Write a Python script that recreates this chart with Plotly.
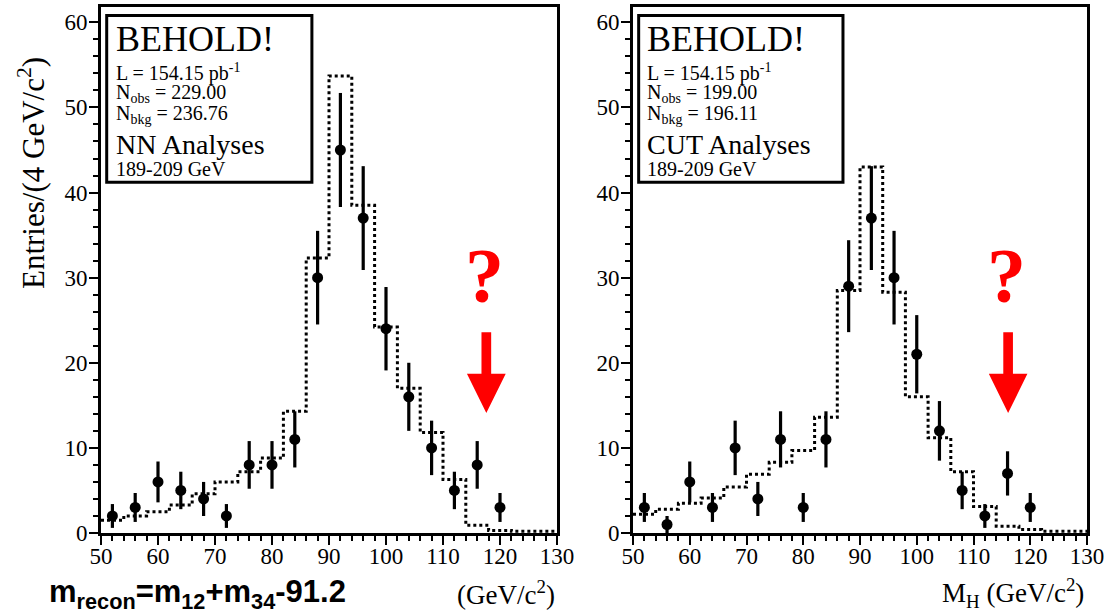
import plotly.graph_objects as go

# ---- data -------------------------------------------------------------
# 4 GeV/c^2 bins from 50 to 130
bin_edges = [50, 54, 58, 62, 66, 70, 74, 78, 82, 86, 90, 94, 98, 102, 106,
             110, 114, 118, 122, 126, 130]

# observed candidates (bin centres, counts, errors)
obs_mass = [52, 56, 60, 64, 68, 72, 76, 80, 84, 88, 92, 96, 100, 104, 108,
            112, 116, 120]
nn_obs = [2, 3, 6, 5, 4, 2, 8, 8, 11, 30, 45, 37, 24, 16, 10, 5, 8, 3]
nn_err = [1.4, 1.7, 2.4, 2.2, 2.0, 1.4, 2.8, 2.8, 3.3, 5.5, 6.7, 6.1, 4.9,
          4.0, 3.2, 2.2, 2.8, 1.7]
cut_obs = [3, 1, 6, 3, 10, 4, 11, 3, 11, 29, 37, 30, 21, 12, 5, 2, 7, 3]
cut_err = [1.7, 1.0, 2.4, 1.7, 3.2, 2.0, 3.3, 1.7, 3.3, 5.4, 6.1, 5.5, 4.6,
           3.5, 2.2, 1.4, 2.6, 1.7]

# expected background per bin
nn_bkg = [1.5, 2.0, 2.5, 3.3, 4.6, 6.0, 7.2, 8.8, 14.3, 32.3, 53.7, 38.5,
          24.2, 17.0, 11.8, 6.3, 0.9, 0.3, 0.2, 0.2]
cut_bkg = [2.2, 2.8, 3.5, 4.1, 5.4, 6.9, 8.3, 9.7, 13.6, 28.5, 43.0, 28.3,
           16.0, 11.2, 7.2, 3.1, 0.8, 0.4, 0.2, 0.2]

x_ticks = [50, 60, 70, 80, 90, 100, 110, 120, 130]
y_ticks = [0, 10, 20, 30, 40, 50, 60]

panels = [
    dict(obs=nn_obs, err=nn_err, bkg=nn_bkg, name="NN Analyses",
         n_obs="229.00", n_bkg="236.76", lumi="154.15"),
    dict(obs=cut_obs, err=cut_err, bkg=cut_bkg, name="CUT Analyses",
         n_obs="199.00", n_bkg="196.11", lumi="154.15"),
]

# ---- figure -----------------------------------------------------------
W, H = 1107, 615
SERIF = "Liberation Serif, Times New Roman, serif"
SANS = "Liberation Sans, Arial, sans-serif"

fig = go.Figure()

x_domains = [[101 / W, 557 / W], [633 / W, 1087 / W]]
y_domain = [1 - 533 / H, 1 - 7 / H]
arrow_x = [117.6, 116.1]
qmark_x = [117.3, 115.9]

for i, p in enumerate(panels):
    xa = "x" if i == 0 else "x2"
    ya = "y" if i == 0 else "y2"

    # background expectation as a dotted step histogram
    fig.add_trace(go.Scatter(
        x=bin_edges, y=p["bkg"] + [p["bkg"][-1]],
        mode="lines", line=dict(color="black", width=3, dash="dot", shape="hv"),
        xaxis=xa, yaxis=ya, showlegend=False, hoverinfo="skip"))

    # observed data with statistical errors
    fig.add_trace(go.Scatter(
        x=obs_mass, y=p["obs"], mode="markers",
        marker=dict(color="black", size=11),
        error_y=dict(type="data", array=p["err"], color="black",
                     thickness=3.2, width=0),
        xaxis=xa, yaxis=ya, showlegend=False))

    # info box
    fig.add_shape(type="rect", xref=xa, yref=ya, x0=51.0, x1=87.0,
                  y0=41.2, y1=60.8, line=dict(color="black", width=3),
                  fillcolor="white", layer="below")

    lines = [
        ("BEHOLD!", 36, 58.0),
        (f"L = {p['lumi']} pb<sup>-1</sup>", 20, 54.1),
        (f"N<sub>obs</sub> = {p['n_obs']}", 20, 51.6),
        (f"N<sub>bkg</sub> = {p['n_bkg']}", 20, 49.2),
        (p["name"], 28, 45.6),
        ("189-209 GeV", 20, 42.8),
    ]
    for txt, size, yv in lines:
        fig.add_annotation(x=52.2, y=yv, xref=xa, yref=ya, text=txt,
                           showarrow=False, xanchor="left", yanchor="middle",
                           font=dict(family=SERIF, size=size, color="black"))

    # question mark and arrow at the excess
    fig.add_annotation(x=qmark_x[i], y=30.2, xref=xa, yref=ya, text="<b>?</b>",
                       showarrow=False, xanchor="center", yanchor="middle",
                       font=dict(family=SERIF, size=78, color="#ff0000"))
    ax = arrow_x[i]
    fig.add_shape(type="path", xref=xa, yref=ya,
                  path=(f"M {ax-0.85},23.6 L {ax+0.85},23.6 L {ax+0.85},18.7 "
                        f"L {ax+3.4},18.7 L {ax},14.1 L {ax-3.4},18.7 "
                        f"L {ax-0.85},18.7 Z"),
                  fillcolor="#ff0000", line=dict(width=0))

axis_common = dict(showgrid=False, zeroline=False, showline=True,
                   linecolor="black", linewidth=3, mirror=True,
                   ticks="outside", tickcolor="black", tickwidth=2,
                   automargin=False,
                   tickfont=dict(family=SERIF, size=23, color="black"))

xa_cfg = dict(axis_common, range=[50, 130], tickvals=x_ticks, ticklen=9,
              ticklabelstandoff=-9,
              minor=dict(dtick=2, ticks="outside", ticklen=5, tickwidth=2,
                         tickcolor="black"))
ya_cfg = dict(axis_common, range=[0, 61.8], tickvals=y_ticks, ticklen=9,
              ticklabelstandoff=-3, domain=y_domain,
              minor=dict(dtick=2, ticks="outside", ticklen=5, tickwidth=2,
                         tickcolor="black"))

fig.update_layout(
    width=W, height=H, margin=dict(l=0, r=0, t=0, b=0, autoexpand=False),
    paper_bgcolor="white", plot_bgcolor="white",
    xaxis=dict(xa_cfg, domain=x_domains[0], anchor="y"),
    yaxis=dict(ya_cfg, anchor="x"),
    xaxis2=dict(xa_cfg, domain=x_domains[1], anchor="y2"),
    yaxis2=dict(ya_cfg, anchor="x2"),
)

# axis titles
fig.add_annotation(x=32 / W, y=1 - 173 / H, xref="paper", yref="paper",
                   text="Entries/(4 GeV/c<sup>2</sup>)", textangle=-90,
                   showarrow=False, xanchor="center", yanchor="middle",
                   font=dict(family=SERIF, size=31, color="black"))
fig.add_annotation(x=47 / W, y=1 - 594 / H, xref="paper", yref="paper",
                   text="<b>m<sub>recon</sub>=m<sub>12</sub>+m<sub>34</sub>-91.2</b>",
                   showarrow=False, xanchor="left", yanchor="middle",
                   font=dict(family=SANS, size=31, color="black"))
fig.add_annotation(x=557 / W, y=1 - 593 / H, xref="paper", yref="paper",
                   text="(GeV/c<sup>2</sup>)", showarrow=False,
                   xanchor="right", yanchor="middle",
                   font=dict(family=SERIF, size=27, color="black"))
fig.add_annotation(x=1086 / W, y=1 - 593 / H, xref="paper", yref="paper",
                   text="M<sub>H</sub> (GeV/c<sup>2</sup>)", showarrow=False,
                   xanchor="right", yanchor="middle",
                   font=dict(family=SERIF, size=27, color="black"))

fig.write_html("out.html")
